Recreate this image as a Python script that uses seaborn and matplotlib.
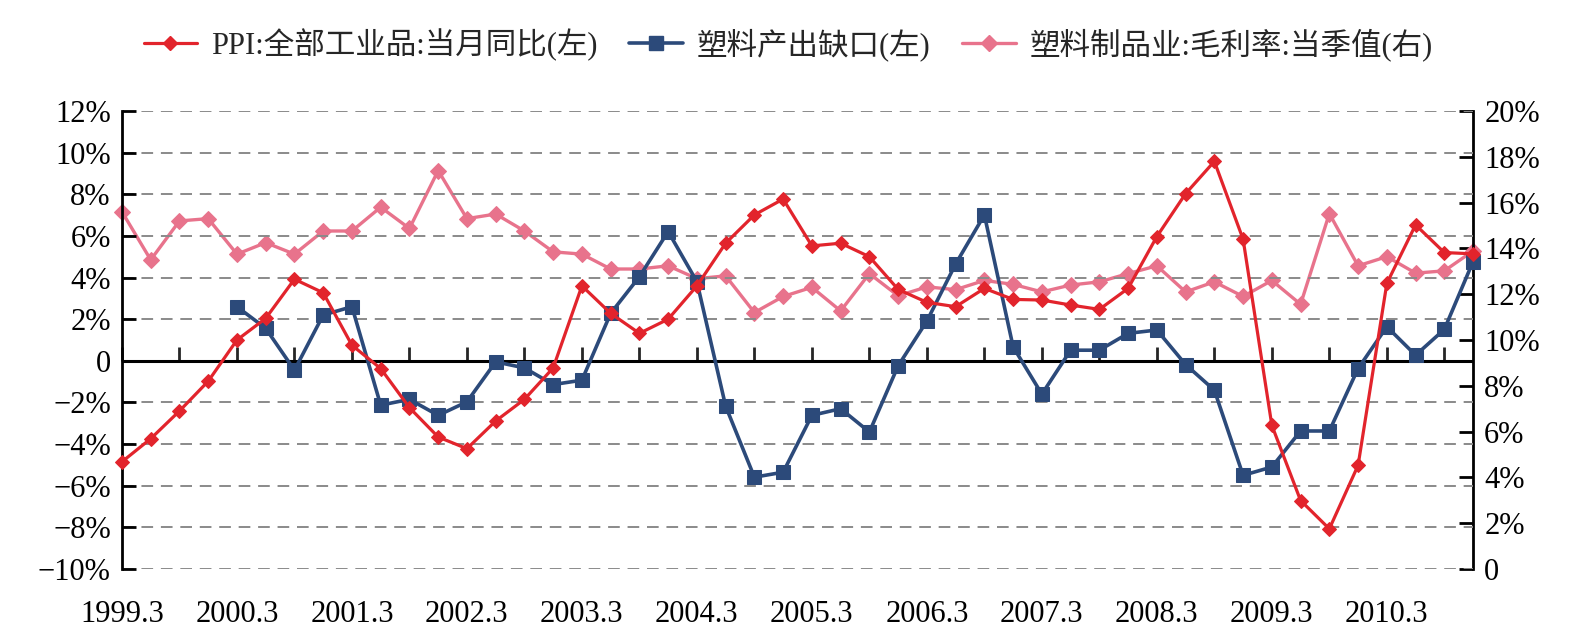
import pandas as pd
import matplotlib
matplotlib.use("Agg")
import matplotlib.pyplot as plt
import seaborn as sns
import numpy as np
from matplotlib.ticker import FuncFormatter
from matplotlib.lines import Line2D

# quarterly periods 1999.3 ... 2010.12
quarters = [f"{y}.{m}" for y in range(1999, 2011) for m in (3, 6, 9, 12)]
x_labels = ["1999.3", "2000.3", "2001.3", "2002.3", "2003.3", "2004.3",
            "2005.3", "2006.3", "2007.3", "2008.3", "2009.3", "2010.3"]

ppi = [-4.85, -3.74, -2.41, -0.98, 1.00, 2.04, 3.92, 3.27,
       0.75, -0.37, -2.25, -3.66, -4.22, -2.89, -1.85, -0.34,
       3.60, 2.28, 1.32, 2.00, 3.60, 5.65, 7.01, 7.77,
       5.52, 5.65, 5.00, 3.43, 2.81, 2.60, 3.48, 2.95,
       2.92, 2.68, 2.47, 3.48, 5.97, 8.03, 9.58, 5.84,
       -3.10, -6.71, -8.07, -5.02, 3.72, 6.53, 5.20, 5.14]

gap = [np.nan, np.nan, np.nan, np.nan, 2.60, 1.56, -0.45, 2.20,
       2.60, -2.13, -1.85, -2.62, -1.97, -0.05, -0.34, -1.14,
       -0.93, 2.28, 4.04, 6.21, 3.80, -2.18, -5.59, -5.35,
       -2.62, -2.30, -3.42, -0.24, 1.91, 4.65, 7.01, 0.67,
       -1.60, 0.51, 0.51, 1.32, 1.48, -0.18, -1.41, -5.50,
       -5.10, -3.37, -3.37, -0.37, 1.64, 0.27, 1.51, 4.77]

margin = [15.60, 13.50, 15.20, 15.30, 13.75, 14.25, 13.75, 14.76,
          14.76, 15.80, 14.87, 17.40, 15.30, 15.50, 14.76, 13.85,
          13.75, 13.10, 13.10, 13.24, 12.68, 12.80, 11.20, 11.90,
          12.30, 11.27, 12.90, 11.93, 12.32, 12.20, 12.60, 12.43,
          12.10, 12.40, 12.54, 12.90, 13.24, 12.10, 12.54, 11.90,
          12.60, 11.56, 15.52, 13.24, 13.64, 12.92, 13.02, 13.89]

names = ["PPI:全部工业品:当月同比(左)", "塑料产出缺口(左)", "塑料制品业:毛利率:当季值(右)"]
colors = ["#E2242C", "#2C4A7A", "#E8738C"]

df = pd.DataFrame({"quarter": quarters, "ppi": ppi, "gap": gap, "margin": margin})
df["idx"] = np.arange(len(df))

sns.set_style("white")
plt.rcParams["font.family"] = ["Liberation Serif", "Noto Sans CJK SC"]
plt.rcParams["axes.unicode_minus"] = True

fig = plt.figure(figsize=(15.86, 6.42), dpi=100)
ax = fig.add_axes([0.0769, 0.1137, 0.8519, 0.7134])
ax2 = ax.twinx()

sns.lineplot(data=df, x="idx", y="margin", ax=ax2, color=colors[2], lw=2.4,
             marker="D", markersize=8.5, markeredgecolor=colors[2], clip_on=False)
sns.lineplot(data=df, x="idx", y="ppi", ax=ax, color=colors[0], lw=2.3,
             marker="D", markersize=7, markeredgecolor=colors[0], clip_on=False, zorder=4)
sns.lineplot(data=df.dropna(subset=["gap"]), x="idx", y="gap", ax=ax, color=colors[1], lw=2.6,
             marker="s", markersize=9.5, markeredgecolor=colors[1], clip_on=False, zorder=3)

ax.set_zorder(ax2.get_zorder() + 1)
ax.patch.set_visible(False)

ax.set_xlim(0, len(quarters) - 1)
ax.set_ylim(-10, 12)
ax2.set_ylim(0, 20)
ax.set_yticks(np.arange(-10, 13, 2))
ax2.set_yticks(np.arange(0, 21, 2))

def pct(v, pos):
    if abs(v) < 1e-9:
        return "0"
    return f"{v:.0f}%".replace("-", "\u2212")

ax.yaxis.set_major_formatter(FuncFormatter(pct))
ax2.yaxis.set_major_formatter(FuncFormatter(pct))

ax.grid(axis="y", color="#8a8a8a", linestyle=(0, (6, 4)), linewidth=1.4)
ax.grid(axis="x", visible=False)
ax.axhline(0, color="black", lw=2.2, zorder=2)

for a in (ax, ax2):
    for s in ("top", "bottom"):
        a.spines[s].set_visible(False)
ax.spines["left"].set_linewidth(2)
ax.spines["left"].set_color("black")
ax2.spines["right"].set_linewidth(2)
ax2.spines["right"].set_color("black")
ax2.spines["left"].set_visible(False)
ax.spines["right"].set_visible(False)

ax.tick_params(axis="y", direction="in", length=10, width=2, labelsize=22, pad=8, colors="black")
ax2.tick_params(axis="y", direction="in", length=10, width=2, labelsize=22, pad=8, colors="black")

label_pos = [quarters.index(q) for q in x_labels]
ax.set_xticks(label_pos)
ax.set_xticklabels(x_labels)
ax.tick_params(axis="x", length=0, labelsize=22, pad=22, colors="black")
ax.set_xlabel("")
ax.set_ylabel("")
ax2.set_ylabel("")

# small tick marks on the zero line every two quarters
zero_loc = (0 - (-10)) / 22
sec = ax.secondary_xaxis(zero_loc)
sec.set_xticks(np.arange(0, len(quarters), 2))
sec.tick_params(direction="in", length=10, width=2, labelbottom=False, labeltop=False)
for s in sec.spines.values():
    s.set_visible(False)

handles = [
    Line2D([], [], color=colors[0], lw=2.3, marker="D", markersize=7),
    Line2D([], [], color=colors[1], lw=2.6, marker="s", markersize=9.5),
    Line2D([], [], color=colors[2], lw=2.4, marker="D", markersize=8.5),
]
fig.legend(handles, names, loc="center", bbox_to_anchor=(0.497, 0.931), ncol=3,
           frameon=False, fontsize=22, handlelength=1.75, handletextpad=0.45,
           columnspacing=1.05)
for a in (ax, ax2):
    if a.get_legend():
        a.get_legend().remove()

fig.savefig("out.png", dpi=100)
